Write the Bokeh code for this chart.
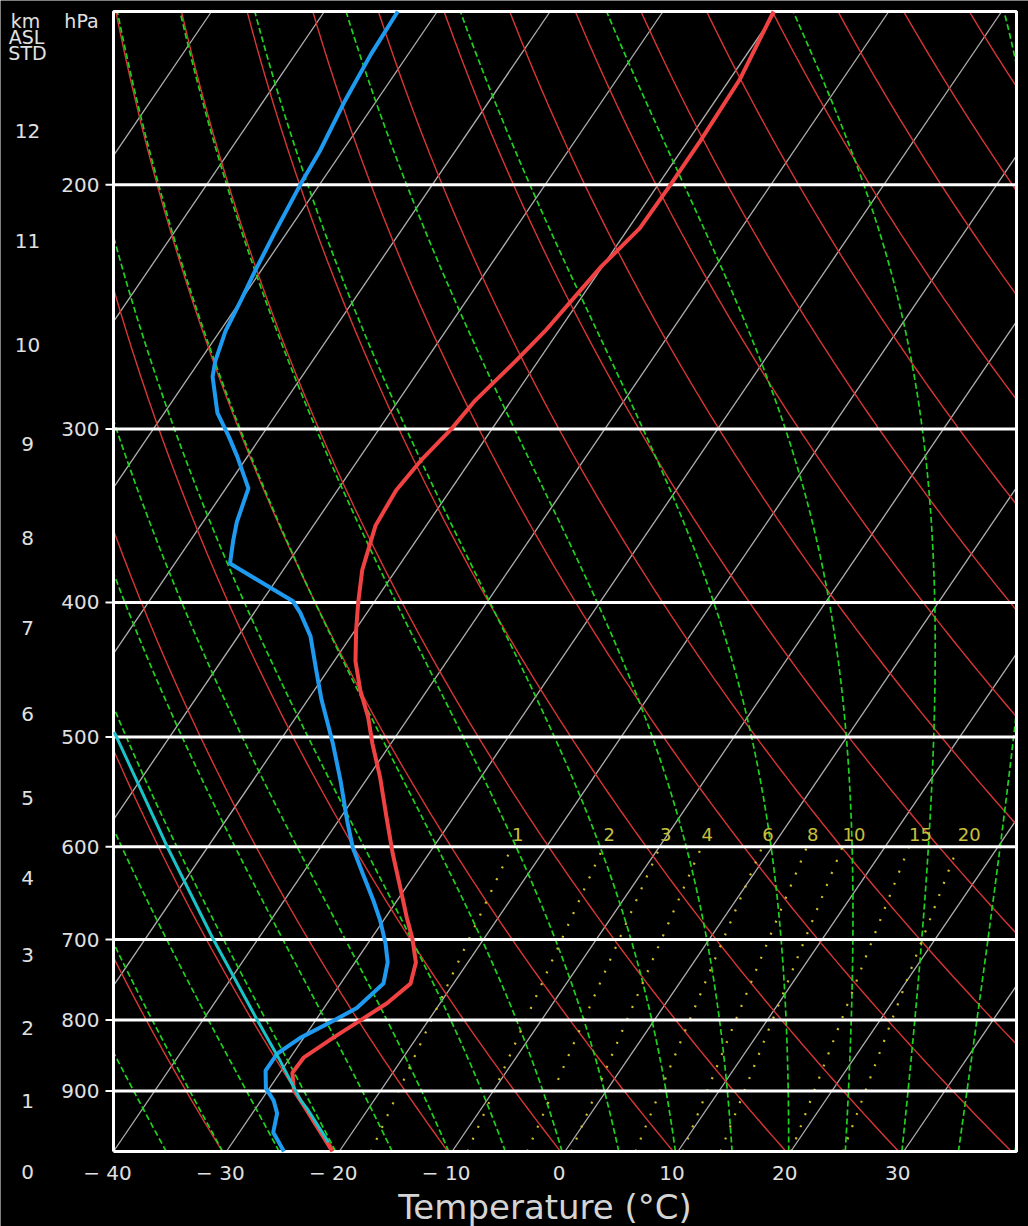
import numpy as np
from bokeh.plotting import figure
from bokeh.models import Range1d
from bokeh.embed import file_html
from bokeh.resources import INLINE
from bokeh.core.properties import value

# ---------------- data ----------------
# Environmental temperature profile
temp_p = [995, 922, 899, 873, 851, 824, 798, 778, 753, 727, 698, 675, 642, 607, 572,
          535, 506, 484, 463, 441, 419, 400, 379, 352, 332, 316, 300, 286, 268, 255,
          238, 229, 215, 200, 186, 168, 150]
temp_t = [-20.6, -25.9, -27.7, -28.9, -28.8, -27.4, -25.9, -24.7, -23.8, -24.6, -26.4,
          -28.1, -30.5, -33.2, -35.9, -38.9, -41.6, -43.6, -45.9, -48.1, -49.9, -51.4,
          -53.0, -54.5, -54.8, -54.4, -53.6, -53.2, -52.0, -51.2, -50.5, -50.1, -49.0,
          -48.9, -48.9, -49.1, -50.2]

# Dew point profile
dew_p = [995, 980, 964, 934, 914, 896, 870, 846, 824, 801, 784, 753, 727, 705, 678,
         656, 628, 601, 575, 538, 506, 492, 470, 447, 423, 407, 399, 375, 361, 350,
         331, 314, 304, 292, 275, 268, 255, 242, 231, 216, 200, 189, 174, 161, 150]
dew_t = [-24.9, -25.9, -27.0, -27.8, -28.9, -30.3, -31.4, -31.4, -30.3, -28.4, -27.1,
         -26.2, -27.1, -28.4, -30.3, -32.1, -34.6, -37.1, -39.2, -42.2, -45.1, -46.5,
         -48.8, -51.1, -53.6, -55.9, -57.3, -65.1, -66.2, -67.0, -68.0, -70.9, -72.8,
         -75.3, -77.9, -78.6, -79.5, -80.0, -80.5, -81.1, -81.7, -82.0, -82.8, -83.3,
         -83.5]

# Parcel path
parcel_p = [980, 927, 914, 856, 801, 699, 601, 496]
parcel_t = [-21.5, -25.4, -26.5, -30.7, -35.1, -44.0, -53.5, -65.2]

# Diagram furniture
isotherms = list(range(-130, 50, 10))              # degC
dry_theta = list(range(-40, 170, 10))              # degC at 1000 hPa
moist_thetaw = list(range(-35, 45, 5))             # degC at 1000 hPa
mix_ratios = [1, 2, 3, 4, 6, 8, 10, 15, 20]        # g/kg
mix_labels = ["1", "2", "3", "4", "6", "8", "10", "15", "20"]

p_ticks = [200, 300, 400, 500, 600, 700, 800, 900]
p_tick_labels = ["200", "300", "400", "500", "600", "700", "800", "900"]
t_ticks = [-40, -30, -20, -10, 0, 10, 20, 30]
t_tick_labels = ["\u2212 40", "\u2212 30", "\u2212 20", "\u2212 10", "0", "10", "20", "30"]

km_values = ["0", "1", "2", "3", "4", "5", "6", "7", "8", "9", "10", "11", "12"]
km_pressure = [1028.6, 914.3, 811.2, 718.0, 631.7, 553.2, 481.2, 417.4, 359.5,
               307.4, 260.9, 219.4, 183.0]

# ---------------- diagram geometry ----------------
P_BOT, P_TOP = 995.0, 150.0
T_MIN, T_MAX = -40.0, 40.0
SKEW = 36.3
W, H = 1028, 1226
PX_LEFT, PX_RIGHT, PY_BOT, PY_TOP = 113.0, 1016.0, 1151.0, 11.0
XS = (PX_RIGHT - PX_LEFT) / (T_MAX - T_MIN)                 # px per degree
YS = (PY_BOT - PY_TOP) / np.log(P_BOT / P_TOP)              # px per ln(p)


def px_x(px):   # layout helper: page pixel -> x coordinate
    return T_MIN + (px - PX_LEFT) / XS


def px_p(py):   # layout helper: page pixel -> pressure coordinate
    return P_BOT * np.exp(-(PY_BOT - py) / YS)


def skew_x(t, p):
    return np.asarray(t, dtype=float) + SKEW * np.log(P_BOT / np.asarray(p, dtype=float))


def moist_dTdp(T, p):
    Rd, Cp, Lv, eps = 287.04, 1005.7, 2.501e6, 0.622
    Tc = T - 273.15
    es = 6.112 * np.exp(17.67 * Tc / (Tc + 243.5))
    rs = eps * es / (p - es)
    num = (Rd * T + Lv * rs) / p
    den = Cp + (Lv * Lv * rs * eps) / (Rd * T * T)
    return num / den


def dewpoint_from_w(w, p):
    e = p * w / (622.0 + w)
    l = np.log(e / 6.112)
    return 243.5 * l / (17.67 - l)


def clip_x(xs, ps, lo=T_MIN, hi=T_MAX):
    xs = np.asarray(xs, dtype=float)
    ps = np.asarray(ps, dtype=float)
    lp = np.log(ps)
    segs = []
    cx, cy = [], []
    for i in range(len(xs)):
        inside = lo <= xs[i] <= hi
        if i > 0:
            in0 = lo <= xs[i - 1] <= hi
            if in0 != inside:
                xo = xs[i] if in0 else xs[i - 1]
                b = lo if xo < lo else hi
                f = (b - xs[i - 1]) / (xs[i] - xs[i - 1])
                cx.append(b)
                cy.append(float(np.exp(lp[i - 1] + f * (lp[i] - lp[i - 1]))))
                if not inside:
                    if len(cx) > 1:
                        segs.append((cx, cy))
                    cx, cy = [], []
        if inside:
            cx.append(float(xs[i]))
            cy.append(float(ps[i]))
    if len(cx) > 1:
        segs.append((cx, cy))
    return segs


def add_clipped(fig, lines, **kw):
    mxs, mys = [], []
    for xs, ps in lines:
        for sx, sy in clip_x(xs, ps):
            mxs.append(sx)
            mys.append(sy)
    fig.multi_line(mxs, mys, **kw)


FONT = "DejaVu Sans"
TXT = "#e0e0e0"

p = figure(width=W, height=H, y_axis_type="log",
           x_range=Range1d(px_x(0), px_x(W)), y_range=Range1d(px_p(H), px_p(0)),
           output_backend="svg", toolbar_location=None,
           background_fill_color="black", border_fill_color="black",
           min_border=0, min_border_left=0, min_border_right=0,
           min_border_top=0, min_border_bottom=0)
p.outline_line_color = None
p.xaxis.visible = False
p.yaxis.visible = False
p.xgrid.visible = False
p.ygrid.visible = False

# isotherms
add_clipped(p, [(skew_x([t, t], [P_BOT, P_TOP]), [P_BOT, P_TOP]) for t in isotherms],
            line_color="#b0b0b0", line_width=1.3)

# dry adiabats
pg = np.geomspace(P_BOT, P_TOP, 160)
dry_lines = []
for th in dry_theta:
    tk = (th + 273.15) * (pg / 1000.0) ** 0.2857 - 273.15
    dry_lines.append((skew_x(tk, pg), pg))
add_clipped(p, dry_lines, line_color="#d83636", line_width=1.4)

# moist adiabats (pseudo-adiabats labelled by temperature at 1000 hPa)
pm = np.concatenate([[1000.0], np.linspace(P_BOT, P_TOP, 400)])
moist_lines = []
for tw in moist_thetaw:
    T = tw + 273.15
    Ts = [T]
    for i in range(1, len(pm)):
        dp = pm[i] - pm[i - 1]
        k1 = moist_dTdp(T, pm[i - 1])
        k2 = moist_dTdp(T + k1 * dp, pm[i])
        T = T + 0.5 * (k1 + k2) * dp
        Ts.append(T)
    Tc = np.array(Ts[1:]) - 273.15
    moist_lines.append((skew_x(Tc, pm[1:]), pm[1:]))
add_clipped(p, moist_lines, line_color="#1ed21e", line_width=1.7, line_dash="6 3")

# mixing-ratio lines
pw = np.linspace(P_BOT, 600, 60)
add_clipped(p, [(skew_x(dewpoint_from_w(w, pw), pw), pw) for w in mix_ratios],
            line_color="#d2be28", line_width=2.2, line_dash="2 11")
lab_x = [float(skew_x(dewpoint_from_w(w, 600.0), 600.0)) for w in mix_ratios]
p.text(x=lab_x, y=[600] * len(mix_ratios), text=mix_labels, text_color="#c8c03c",
       text_font=value(FONT), text_font_size="18px", text_align="left",
       text_baseline="bottom", y_offset=-6)

# pressure lines and pressure ticks
p.segment(x0=[T_MIN] * len(p_ticks), x1=[T_MAX] * len(p_ticks), y0=p_ticks, y1=p_ticks,
          line_color="white", line_width=3)
p.segment(x0=[px_x(105)] * len(p_ticks), x1=[T_MIN] * len(p_ticks), y0=p_ticks,
          y1=p_ticks, line_color="white", line_width=2)

# frame box
p.multi_line([[T_MIN, T_MAX, T_MAX, T_MIN, T_MIN]], [[P_BOT, P_BOT, P_TOP, P_TOP, P_BOT]],
             line_color="white", line_width=3)

# profiles
p.line(skew_x(temp_t, temp_p), temp_p, line_color="#f04242", line_width=4)
p.line(skew_x(dew_t, dew_p), dew_p, line_color="#1e9bf0", line_width=4)
p.line(skew_x(parcel_t, parcel_p), parcel_p, line_color="#19c3c8", line_width=3)

# pressure tick labels
p.text(x=[px_x(99)] * len(p_ticks), y=p_ticks, text=p_tick_labels, text_color=TXT,
       text_font=value(FONT), text_font_size="20px", text_align="right",
       text_baseline="middle")

# temperature tick labels
p.text(x=t_ticks, y=[px_p(1172)] * len(t_ticks), text=t_tick_labels, text_color=TXT,
       text_font=value(FONT), text_font_size="20px", text_align="center",
       text_baseline="middle", x_offset=-6)

# km (standard atmosphere) labels
p.text(x=[px_x(27)] * len(km_values), y=km_pressure, text=km_values, text_color=TXT,
       text_font=value(FONT), text_font_size="20px", text_align="center",
       text_baseline="middle")

# headers
p.text(x=[px_x(25), px_x(81), px_x(26), px_x(27)],
       y=[px_p(20), px_p(20), px_p(36), px_p(52)],
       text=["km", "hPa", "ASL", "STD"], text_color=TXT, text_font=value(FONT),
       text_font_size="19px", text_align="center", text_baseline="middle")

# axis title
p.text(x=[px_x(550)], y=[px_p(1206)], text=["Temperature  (\u00b0C)"], text_color="#d4d4d4",
       text_font=value(FONT), text_font_size="34px", text_align="center",
       text_baseline="middle")

open("out.html", "w").write(file_html(p, INLINE))
